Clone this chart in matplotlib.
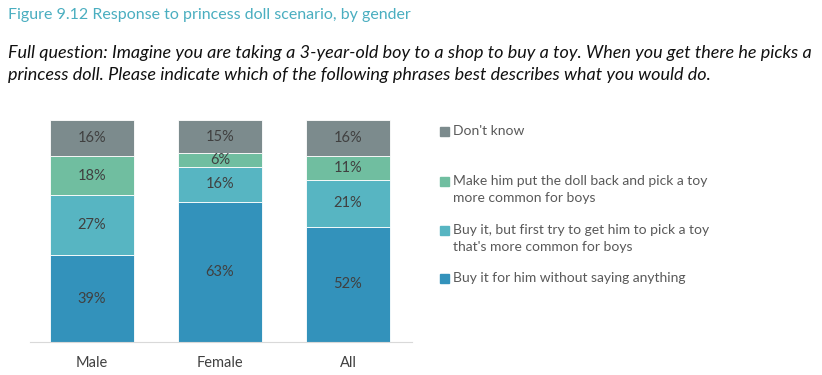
import matplotlib.pyplot as plt
from matplotlib.patches import Rectangle

# data
groups = ['Male', 'Female', 'All']
responses = [
    'Buy it for him without saying anything',
    "Buy it, but first try to get him to pick a toy\nthat's more common for boys",
    'Make him put the doll back and pick a toy\nmore common for boys',
    "Don't know",
]
without_saying = [39, 63, 52]
try_other_first = [27, 16, 21]
put_it_back = [18, 6, 11]
dont_know = [16, 15, 16]
series = [without_saying, try_other_first, put_it_back, dont_know]
colors = ['#3392bb', '#57b5c2', '#70bea0', '#7c8b8d']

plt.rcParams['font.family'] = ['Lato', 'DejaVu Sans']

fig = plt.figure(figsize=(8.22, 3.75), dpi=100)
ax = fig.add_axes([30 / 822, 33 / 375, 382 / 822, 222 / 375])

x = range(len(groups))
bottom = [0, 0, 0]
for vals, col in zip(series, colors):
    bars = ax.bar(x, vals, bottom=bottom, width=0.656, color=col,
                  edgecolor='white', linewidth=0.6)
    for b, v, btm in zip(bars, vals, bottom):
        ax.text(b.get_x() + b.get_width() / 2, btm + v / 2, f'{v}%',
                ha='center', va='center', fontsize=10.5, color='#404040')
    bottom = [a + b for a, b in zip(bottom, vals)]

ax.set_xlim(-0.484, 2.5)
ax.set_ylim(0, 100)
ax.set_xticks(list(x))
ax.set_xticklabels(groups, fontsize=10.5, color='#404040')
ax.tick_params(axis='x', length=0, pad=10)
ax.set_yticks([])
for s in ['top', 'right', 'left']:
    ax.spines[s].set_visible(False)
ax.spines['bottom'].set_color('#d9d9d9')

# legend, drawn by hand so the lines sit like the original
leg_y = [127, 177, 226, 274]
leg_labels = responses[::-1]
leg_cols = colors[::-1]
for yy, lab, col in zip(leg_y, leg_labels, leg_cols):
    fig.patches.append(Rectangle((440 / 822, 1 - (yy + 9) / 375), 9 / 822, 9 / 375,
                                 transform=fig.transFigure, color=col))
    fig.text(453 / 822, 1 - (yy - 2) / 375, lab, ha='left', va='top', fontsize=10,
             color='#595959', linespacing=1.45)

fig.text(8 / 822, 1 - 8 / 375, 'Figure 9.12 Response to princess doll scenario, by gender',
         ha='left', va='top', fontsize=11.5, color='#4aaec0')
fig.text(8 / 822, 1 - 45 / 375,
         'Full question: Imagine you are taking a 3-year-old boy to a shop to buy a toy. '
         'When you get there he picks a\nprincess doll. Please indicate which of the '
         'following phrases best describes what you would do.',
         ha='left', va='top', fontsize=13, style='italic', color='#111111',
         linespacing=1.45)

fig.savefig('out.png', dpi=100)
